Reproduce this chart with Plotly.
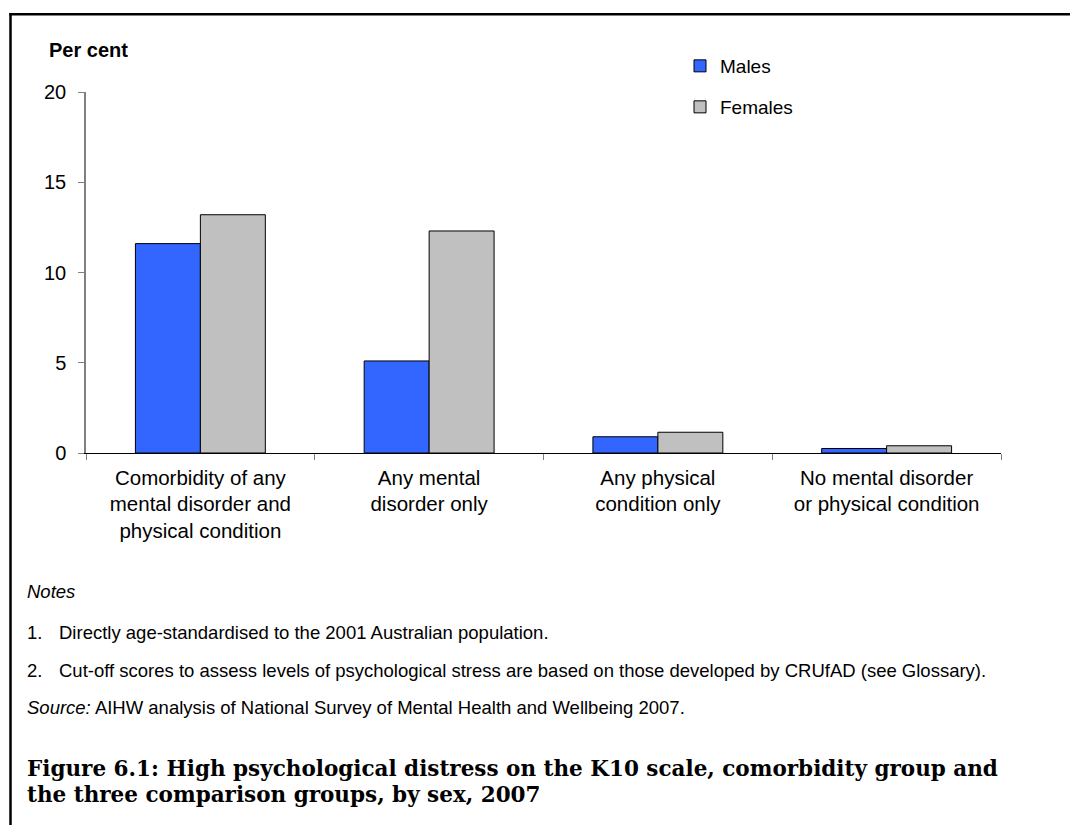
import plotly.graph_objects as go

categories = [
    "Comorbidity of any<br>mental disorder and<br>physical condition",
    "Any mental<br>disorder only",
    "Any physical<br>condition only",
    "No mental disorder<br>or physical condition",
]
males = [11.6, 5.1, 0.9, 0.25]
females = [13.2, 12.3, 1.15, 0.4]
y_ticks = [0, 5, 10, 15, 20]

SANS = "Arial, Liberation Sans, sans-serif"
SERIF = "DejaVu Serif, serif"

W, H = 1070, 825
L, R, T, B = 86, 1001, 92, 453


def px(x):
    return (x - L) / (R - L)


def py(y):
    return (B - y) / (B - T)


fig = go.Figure()
fig.add_trace(go.Bar(name="Males", x=categories, y=males,
                     marker=dict(color="#3366FF", line=dict(color="black", width=1)),
                     legend="legend"))
fig.add_trace(go.Bar(name="Females", x=categories, y=females,
                     marker=dict(color="#C0C0C0", line=dict(color="black", width=1)),
                     legend="legend2"))

fig.update_layout(
    width=W, height=H, autosize=False,
    margin=dict(l=L, r=W - R, t=T, b=H - B),
    paper_bgcolor="white", plot_bgcolor="white",
    barmode="group", bargap=0.432, bargroupgap=0,
    font=dict(family=SANS, color="black"),
    legend=dict(x=px(680), y=py(47), xanchor="left", yanchor="top",
                font=dict(size=19, family=SANS), bgcolor="rgba(0,0,0,0)"),
    legend2=dict(x=px(680), y=py(88), xanchor="left", yanchor="top",
                 font=dict(size=19, family=SANS), bgcolor="rgba(0,0,0,0)"),
    showlegend=True,
)
fig.update_yaxes(range=[0, 20], tickvals=y_ticks, ticks="outside", ticklen=6,
                 tickcolor="#808080", showline=True, linecolor="#808080", linewidth=1.5,
                 showgrid=False, zeroline=False, tickfont=dict(size=20, family=SANS),
                 ticklabelstandoff=8)
fig.update_xaxes(type="category", showline=True, linecolor="black", linewidth=1,
                 ticks="outside", tickson="boundaries", ticklen=6, tickcolor="#808080",
                 showgrid=False, tickfont=dict(size=20.5, family=SANS),
                 ticklabelstandoff=6)

# frame
fig.add_shape(type="line", xref="paper", yref="paper", x0=px(10.5), x1=px(10.5),
              y0=py(13), y1=py(830), line=dict(color="black", width=2.5))
fig.add_shape(type="line", xref="paper", yref="paper", x0=px(9.3), x1=px(1075),
              y0=py(14.3), y1=py(14.3), line=dict(color="black", width=2.5))

NOTE = dict(size=18.5, family=SANS, color="black")
CAP = dict(size=21.5, family=SERIF, color="black")
anns = [
    ("Per cent", 47, 50, dict(size=20, family=SANS, color="black"), True),
    ("<i>Notes</i>", 25, 591, NOTE, False),
    ("1.", 25, 632, NOTE, False),
    ("Directly age-standardised to the 2001 Australian population.", 57, 632, NOTE, False),
    ("2.", 25, 670, NOTE, False),
    ("Cut-off scores to assess levels of psychological stress are based on those developed by CRUfAD (see Glossary).",
     57, 670, NOTE, False),
    ("<i>Source:</i> AIHW analysis of National Survey of Mental Health and Wellbeing 2007.", 25, 707,
     NOTE, False),
    ("Figure 6.1: High psychological distress on the K10 scale, comorbidity group and", 25, 768, CAP, True),
    ("the three comparison groups, by sex, 2007", 25, 795, CAP, True),
]
for text, x, y, f, bold in anns:
    fig.add_annotation(text=f"<b>{text}</b>" if bold else text, xref="paper", yref="paper",
                       x=px(x), y=py(y), xanchor="left", yanchor="middle",
                       showarrow=False, font=f, align="left")

fig.write_html("out.html", config={"displayModeBar": False},
               post_script="document.body.style.margin='0';")
